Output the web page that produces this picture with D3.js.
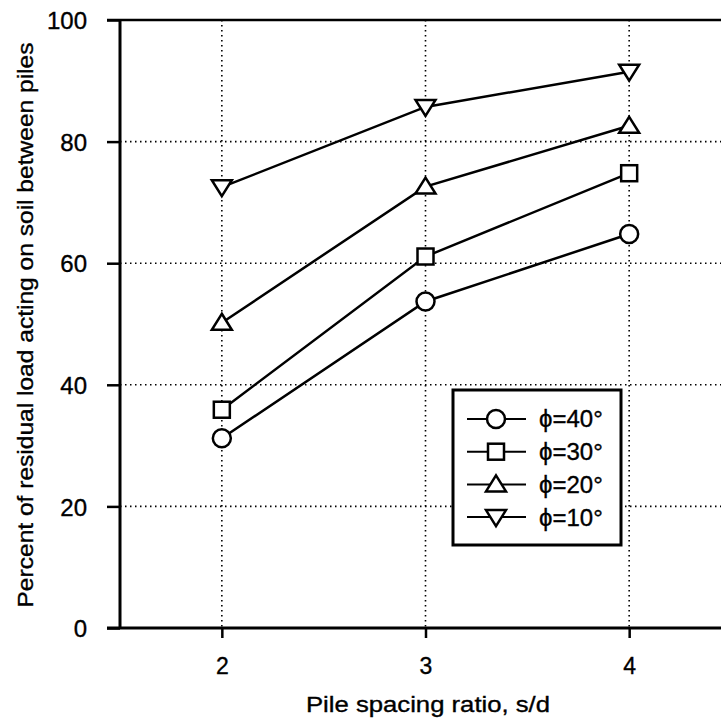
<!DOCTYPE html>
<html><head><meta charset="utf-8">
<script src="https://cdn.jsdelivr.net/npm/d3@7"></script>
<style>body{margin:0;background:#fff}svg{display:block}text{font-family:"Liberation Sans",Arial,sans-serif;fill:#000;stroke:#000;stroke-width:0.35px}</style>
</head><body><svg id="c" width="721" height="723"></svg>
<script>
const spacing = [2, 3, 4];
const phi40 = [31.2, 53.7, 64.8];
const phi30 = [35.9, 61.1, 74.8];
const phi20 = [50.2, 72.6, 82.6];
const phi10 = [72.5, 85.7, 91.5];
const seriesNames = ["\u03d5=40\u00b0", "\u03d5=30\u00b0", "\u03d5=20\u00b0", "\u03d5=10\u00b0"];
const seriesSymbols = ["circle", "square", "up", "down"];
const yTicks = [0, 20, 40, 60, 80, 100];
const xTicks = [2, 3, 4];
const series = [phi40, phi30, phi20, phi10].map((v, i) => ({name: seriesNames[i], sym: seriesSymbols[i], values: v}));

const svg = d3.select("#c");
const x = d3.scaleLinear().domain([1.5, 4.5]).range([120, 731]);
const y = d3.scaleLinear().domain([0, 100]).range([628, 20]);

// grid
const g = svg.append("g");
g.selectAll(".hg").data([20, 40, 60, 80]).enter().append("line")
  .attr("x1", x(1.5)).attr("x2", 721).attr("y1", d => y(d)).attr("y2", d => y(d))
  .attr("stroke", "#000").attr("stroke-width", 1.6).attr("stroke-dasharray", "1.5,3.5");
g.selectAll(".vg").data(xTicks).enter().append("line")
  .attr("x1", d => x(d)).attr("x2", d => x(d)).attr("y1", y(100)).attr("y2", y(0))
  .attr("stroke", "#000").attr("stroke-width", 1.6).attr("stroke-dasharray", "1.5,3.5");

// axes
const yAxis = d3.axisLeft(y).tickValues(yTicks).tickSize(13).tickPadding(16);
const ya = svg.append("g").attr("transform", `translate(${x(1.5)},0)`).call(yAxis);
ya.select(".domain").attr("stroke-width", 3).attr("d", `M0,${y(100)}V${y(0)}`);
ya.selectAll(".tick line").attr("stroke-width", 2.5);
ya.selectAll(".tick text").attr("font-size", 24).attr("dx", "-4").attr("dy", "0.36em").attr("font-family", "Liberation Sans, Arial, sans-serif");

const xAxis = d3.axisBottom(x).tickValues(xTicks).tickSize(10).tickPadding(20).tickFormat(d3.format("d"));
const xa = svg.append("g").attr("transform", `translate(0,${y(0)})`).call(xAxis);
xa.select(".domain").attr("stroke-width", 3).attr("d", `M107,0H721`);
xa.selectAll(".tick line").attr("stroke-width", 2.5);
xa.selectAll(".tick text").attr("font-size", 23).attr("font-family", "Liberation Sans, Arial, sans-serif");

// top border
svg.append("line").attr("x1", 107).attr("x2", 721).attr("y1", y(100)).attr("y2", y(100))
  .attr("stroke", "#000").attr("stroke-width", 2.5);

// symbols
function sym(sel, type, cx, cy) {
  if (type === "circle") sel.append("circle").attr("cx", cx).attr("cy", cy).attr("r", 9);
  else if (type === "square") sel.append("rect").attr("x", cx - 8).attr("y", cy - 8).attr("width", 16).attr("height", 16);
  else if (type === "up") sel.append("path").attr("d", `M${cx},${cy - 9}L${cx + 10},${cy + 7}L${cx - 10},${cy + 7}Z`);
  else sel.append("path").attr("d", `M${cx},${cy + 9}L${cx + 10},${cy - 7}L${cx - 10},${cy - 7}Z`);
}
const line = d3.line().x((d, i) => x(spacing[i])).y(d => y(d));
series.forEach(s => {
  svg.append("path").attr("d", line(s.values)).attr("fill", "none").attr("stroke", "#000").attr("stroke-width", 2.5);
  const ms = svg.append("g").attr("fill", "#fff").attr("stroke", "#000").attr("stroke-width", 2.5);
  s.values.forEach((v, i) => sym(ms, s.sym, x(spacing[i]), y(v)));
});

// legend
const lg = svg.append("g");
lg.append("rect").attr("x", 453).attr("y", 390).attr("width", 168).attr("height", 155)
  .attr("fill", "#fff").attr("stroke", "#000").attr("stroke-width", 3);
series.forEach((s, i) => {
  const cy = 419 + i * 32.7;
  lg.append("line").attr("x1", 467).attr("x2", 526).attr("y1", cy).attr("y2", cy).attr("stroke", "#000").attr("stroke-width", 2);
  const ms = lg.append("g").attr("fill", "#fff").attr("stroke", "#000").attr("stroke-width", 2.5);
  sym(ms, s.sym, 496, cy);
  lg.append("text").attr("x", 539).attr("y", cy).attr("dy", "0.35em").attr("font-size", 24).text(s.name);
});

// axis titles
svg.append("text").attr("x", 428).attr("y", 712).attr("text-anchor", "middle").attr("font-size", 22)
  .attr("textLength", 244).attr("lengthAdjust", "spacingAndGlyphs").text("Pile spacing ratio, s/d");
svg.append("text").attr("transform", "translate(33,325) rotate(-90)").attr("text-anchor", "middle")
  .attr("font-size", 22).attr("textLength", 565).attr("lengthAdjust", "spacingAndGlyphs").text("Percent of residual load acting on soil between piles");
</script></body></html>
